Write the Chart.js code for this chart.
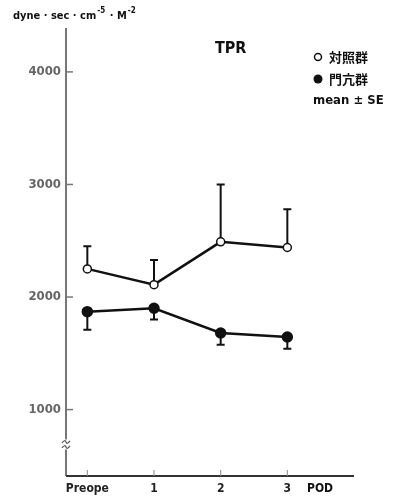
<!DOCTYPE html>
<html>
<head>
<meta charset="utf-8">
<script src="https://cdn.jsdelivr.net/npm/chart.js@4"></script>
<style>
  html, body { margin: 0; padding: 0; background: #fff; }
  #wrap { width: 393px; height: 501px; position: relative; }
</style>
</head>
<body>
<div id="wrap"><canvas id="tprChart" width="393" height="501"></canvas></div>
<script>
const days = [0, 1, 2, 3];
const dayLabels = ["Preope", "1", "2", "3"];
const yTicks = [1000, 2000, 3000, 4000];
const ctrlMean = [2250, 2110, 2490, 2440];
const ctrlSE = [200, 220, 510, 340];
const pvMean = [1870, 1900, 1680, 1645];
const pvSE = [160, 100, 105, 105];
const yMin = 410;
const yMax = 4390;
const breakAt = 690;

const condFont = "'DejaVu Sans Condensed', 'DejaVu Sans', sans-serif";
const jpFont = "'Noto Sans CJK JP', sans-serif";

// error bars: control goes up, portal goes down
const errorBars = {
    id: 'errorBars',
    beforeDatasetsDraw(chart) {
        const ctx = chart.ctx;
        const xs = chart.scales.x;
        const ys = chart.scales.y;
        ctx.save();
        ctx.strokeStyle = '#111';
        ctx.lineWidth = 2;
        days.forEach((d, i) => {
            const x = xs.getPixelForValue(d);
            let y0 = ys.getPixelForValue(ctrlMean[i]);
            let y1 = ys.getPixelForValue(ctrlMean[i] + ctrlSE[i]);
            ctx.beginPath();
            ctx.moveTo(x, y0); ctx.lineTo(x, y1);
            ctx.moveTo(x - 4, y1); ctx.lineTo(x + 4, y1);
            ctx.stroke();
            y0 = ys.getPixelForValue(pvMean[i]);
            y1 = ys.getPixelForValue(pvMean[i] - pvSE[i]);
            ctx.beginPath();
            ctx.moveTo(x, y0); ctx.lineTo(x, y1);
            ctx.moveTo(x - 4, y1); ctx.lineTo(x + 4, y1);
            ctx.stroke();
        });
        ctx.restore();
    }
};

// axes, tick marks, break sign and texts
const decorations = {
    id: 'decorations',
    afterDraw(chart) {
        const ctx = chart.ctx;
        const xs = chart.scales.x;
        const ys = chart.scales.y;
        const area = chart.chartArea;
        ctx.save();
        // y axis
        ctx.strokeStyle = '#777';
        ctx.lineWidth = 2;
        ctx.beginPath();
        ctx.moveTo(area.left, area.top);
        ctx.lineTo(area.left, area.bottom);
        ctx.stroke();
        yTicks.forEach(v => {
            const y = ys.getPixelForValue(v);
            ctx.lineWidth = 1.5;
            ctx.beginPath();
            ctx.moveTo(area.left, y); ctx.lineTo(area.left + 7, y);
            ctx.stroke();
        });
        // x axis
        ctx.strokeStyle = '#333';
        ctx.lineWidth = 2;
        ctx.beginPath();
        ctx.moveTo(area.left, area.bottom);
        ctx.lineTo(area.right, area.bottom);
        ctx.stroke();
        ctx.strokeStyle = '#888';
        ctx.lineWidth = 1;
        days.forEach(d => {
            const x = xs.getPixelForValue(d);
            ctx.beginPath();
            ctx.moveTo(x, area.bottom); ctx.lineTo(x, area.bottom - 6);
            ctx.stroke();
        });
        // break sign
        const by = ys.getPixelForValue(breakAt);
        ctx.fillStyle = '#fff';
        ctx.fillRect(area.left - 3, by - 5, 6, 10);
        ctx.strokeStyle = '#555';
        ctx.lineWidth = 1.2;
        [-2.5, 2.5].forEach(o => {
            ctx.beginPath();
            ctx.moveTo(area.left - 4, by + o + 1);
            ctx.quadraticCurveTo(area.left - 1, by + o - 3, area.left, by + o);
            ctx.quadraticCurveTo(area.left + 1, by + o + 3, area.left + 4, by + o - 1);
            ctx.stroke();
        });
        // texts
        ctx.fillStyle = '#111';
        ctx.textBaseline = 'middle';
        ctx.textAlign = 'left';
        let x = 13;
        const parts = ["dyne · sec · cm", "-5", " · M", "-2"];
        parts.forEach((p, i) => {
            if (i % 2 === 1) {
                ctx.font = "bold 8px " + condFont;
                ctx.fillText(p, x, 11);
            } else {
                ctx.font = "bold 11px " + condFont;
                ctx.fillText(p, x, 16);
            }
            x += ctx.measureText(p).width + 1;
        });
        ctx.font = "bold 16px " + condFont;
        ctx.fillText("TPR", 215, 49);
        ctx.font = "bold 13px " + jpFont;
        ctx.fillText("対照群", 329, 57);
        ctx.fillText("門亢群", 329, 79);
        ctx.font = "bold 13px " + condFont;
        ctx.fillText("mean ± SE", 313, 101);
        ctx.font = "bold 12px " + condFont;
        ctx.fillText("POD", 307, 489);
        ctx.lineWidth = 1.5;
        ctx.strokeStyle = '#111';
        ctx.beginPath();
        ctx.arc(318, 57, 3.5, 0, Math.PI * 2);
        ctx.stroke();
        ctx.beginPath();
        ctx.arc(318, 79, 4.5, 0, Math.PI * 2);
        ctx.fill();
        ctx.restore();
    }
};

const ctx = document.getElementById('tprChart').getContext('2d');
const tprChart = new Chart(ctx, {
    type: 'line',
    data: {
        datasets: [
            {
                label: '対照群',
                data: days.map((d, i) => ({ x: d, y: ctrlMean[i] })),
                borderColor: '#111',
                borderWidth: 2.5,
                pointBackgroundColor: '#fff',
                pointBorderColor: '#111',
                pointBorderWidth: 1.5,
                pointRadius: 4,
                tension: 0
            },
            {
                label: '門亢群',
                data: days.map((d, i) => ({ x: d, y: pvMean[i] })),
                borderColor: '#111',
                borderWidth: 2.5,
                pointBackgroundColor: '#111',
                pointBorderColor: '#111',
                pointRadius: 4.5,
                tension: 0
            }
        ]
    },
    options: {
        responsive: false,
        animation: false,
        devicePixelRatio: 1,
        layout: { padding: { left: 0, right: 39, top: 28, bottom: 0 } },
        plugins: {
            legend: { display: false },
            title: { display: false },
            tooltip: { enabled: false }
        },
        scales: {
            x: {
                type: 'linear',
                min: -0.32,
                max: 4.0,
                afterBuildTicks: scale => { scale.ticks = days.map(v => ({ value: v })); },
                afterFit: scale => { scale.height = 25; },
                grid: { display: false, drawTicks: false },
                border: { display: false },
                ticks: {
                    padding: 6,
                    color: '#222',
                    font: { family: condFont, size: 12, weight: 'bold' },
                    callback: v => dayLabels[days.indexOf(v)]
                }
            },
            y: {
                min: yMin,
                max: yMax,
                afterBuildTicks: scale => { scale.ticks = yTicks.map(v => ({ value: v })); },
                afterFit: scale => { scale.width = 66; },
                grid: { display: false, drawTicks: false },
                border: { display: false },
                ticks: {
                    padding: 5,
                    color: '#666',
                    font: { family: condFont, size: 13, weight: 'bold' },
                    callback: v => String(v)
                }
            }
        }
    },
    plugins: [errorBars, decorations]
});
</script>
</body>
</html>
